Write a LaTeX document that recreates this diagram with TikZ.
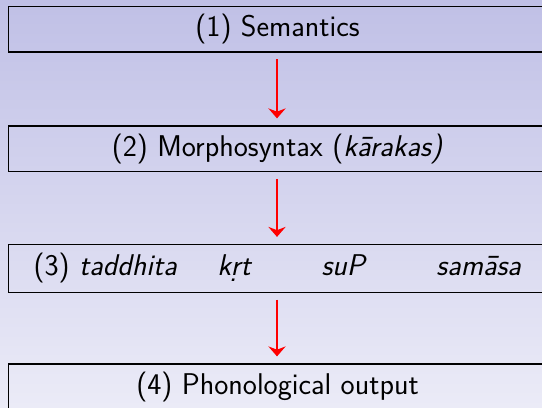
\documentclass[tikz,border=0pt]{standalone}
\usepackage{fontspec}
\usetikzlibrary{arrows.meta}
\definecolor{bgtop}{RGB}{192,192,230}
\definecolor{bgbot}{RGB}{235,235,247}

\begin{document}
\begin{tikzpicture}[x=0.75pt,y=-0.75pt,
  stage/.style={draw=black,line width=1.3pt,anchor=west,inner sep=0pt,minimum height=34.2pt,
    font=\sffamily\fontsize{22.5}{27}\selectfont},
  flow/.style={draw=red,line width=1pt,-{Stealth[length=7.5pt,width=13pt,inset=2.5pt]},
    shorten <=4.8pt,shorten >=5pt}]
 \def\w{403.5pt}

 \useasboundingbox (0,0) rectangle (542,407);
 \clip (0,0) rectangle (542,407);
 \shade[top color=bgtop,bottom color=bgbot] (0,0) rectangle (542,407);

 \coordinate (axis) at (277,0);

 \node[stage] (sem)   at (7.7,29.2)  {\makebox[\w]{(1) Semantics}\hspace{60pt}};
 \node[stage] (morph) at (7.7,148.7) {\makebox[\w]{(2) Morphosyntax (\textit{k\={a}rakas)}}\hspace{60pt}};
 \node[stage,minimum height=36pt] (affix) at (7.7,268.4)
   {\makebox[\w]{(3) \textit{taddhita}\hspace{30pt}\textit{k\d{r}t}\hspace{52pt}\textit{suP}\hspace{52pt}\textit{sam\={a}sa}}\hspace{60pt}};
 \node[stage] (phon)  at (7.7,386.7) {\makebox[\w]{(4) Phonological output}\hspace{60pt}};

 \draw[flow] (sem.south -| axis) -- (morph.north -| axis);
 \draw[flow] (morph.south -| axis) -- (affix.north -| axis);
 \draw[flow] (affix.south -| axis) -- (phon.north -| axis);

\end{tikzpicture}
\end{document}
